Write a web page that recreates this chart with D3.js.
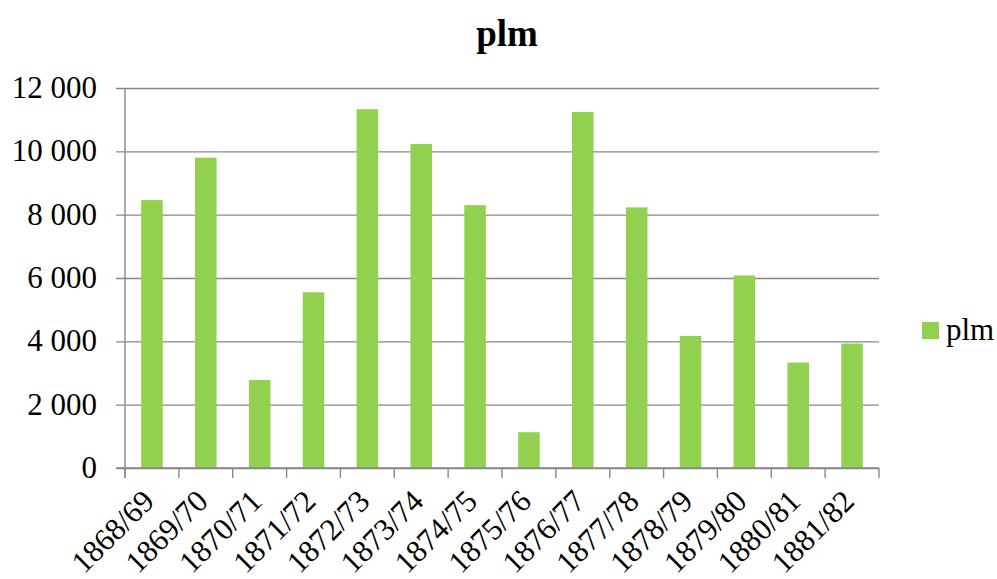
<!DOCTYPE html>
<html>
<head>
<meta charset="utf-8">
<script src="https://cdn.jsdelivr.net/npm/d3@7"></script>
<style>
  body { margin: 0; background: #fff; }
</style>
</head>
<body>
<div id="chart"></div>
<script>
const years = ["1868/69", "1869/70", "1870/71", "1871/72", "1872/73", "1873/74", "1874/75",
               "1875/76", "1876/77", "1877/78", "1878/79", "1879/80", "1880/81", "1881/82"];
const plm = [8460, 9800, 2780, 5550, 11330, 10230, 8300, 1130, 11240, 8230, 4170, 6080, 3330, 3930];
const yTicks = [0, 2000, 4000, 6000, 8000, 10000, 12000];

(function () {
    let width = 997, height = 579;
    let left = 125, right = 879, top = 88, bottom = 468;
    let serif = "'Liberation Serif'";
    let svg = d3.select("#chart")
        .append("svg")
        .attr("width", width)
        .attr("height", height);

    let x = d3.scaleBand()
        .domain(years)
        .range([left, right])
        .paddingInner(0.6)
        .paddingOuter(0.3);
    let bounds = d3.scaleLinear()
        .domain([0, years.length])
        .range([left, right]);
    let y = d3.scaleLinear()
        .domain([0, 12000])
        .range([bottom, top]);

    let fmt = v => d3.format(",")(v).replace(/,/g, " ");

    // grid + y ticks
    svg.append("g")
        .attr("transform", `translate(${right},0)`)
        .call(d3.axisLeft(y).tickValues(yTicks).tickSize(right - left + 9).tickFormat(""))
        .call(g => g.select(".domain").remove())
        .call(g => g.selectAll("line").attr("stroke", "#878787").attr("stroke-width", 1.4));

    svg.append("g")
        .selectAll("text")
        .data(yTicks)
        .enter()
        .append("text")
        .attr("x", 97)
        .attr("y", d => y(d) + 10)
        .attr("text-anchor", "end")
        .style("font-family", serif)
        .style("font-size", "31px")
        .text(fmt);

    // bars
    svg.selectAll(".bar")
        .data(plm)
        .enter()
        .append("rect")
        .attr("x", (_, i) => x(years[i]))
        .attr("y", d => y(d))
        .attr("width", x.bandwidth())
        .attr("height", d => y(0) - y(d))
        .attr("fill", "#92d050");

    // axes lines
    svg.append("line")
        .attr("x1", left).attr("x2", left)
        .attr("y1", top).attr("y2", bottom + 10)
        .attr("stroke", "#878787").attr("stroke-width", 1.4);
    svg.append("line")
        .attr("x1", left - 9).attr("x2", right)
        .attr("y1", bottom).attr("y2", bottom)
        .attr("stroke", "#878787").attr("stroke-width", 1.4);
    svg.append("g")
        .selectAll("line")
        .data(d3.range(years.length + 1))
        .enter()
        .append("line")
        .attr("x1", d => bounds(d)).attr("x2", d => bounds(d))
        .attr("y1", bottom).attr("y2", bottom + 10)
        .attr("stroke", "#878787").attr("stroke-width", 1.4);

    // x labels
    svg.append("g")
        .selectAll("text")
        .data(years)
        .enter()
        .append("text")
        .attr("transform", d => `translate(${x(d) + x.bandwidth() / 2 + 4},503) rotate(-45)`)
        .attr("text-anchor", "end")
        .style("font-family", serif)
        .style("font-size", "31px")
        .text(d => d);

    // title
    svg.append("text")
        .attr("x", 507)
        .attr("y", 46)
        .attr("text-anchor", "middle")
        .style("font-family", serif)
        .style("font-size", "37px")
        .style("font-weight", "bold")
        .text("plm");

    // legend
    svg.append("rect")
        .attr("x", 922)
        .attr("y", 322)
        .attr("width", 17)
        .attr("height", 17)
        .attr("fill", "#92d050");
    svg.append("text")
        .attr("x", 946)
        .attr("y", 340)
        .style("font-family", serif)
        .style("font-size", "31px")
        .text("plm");
})();
</script>
</body>
</html>
